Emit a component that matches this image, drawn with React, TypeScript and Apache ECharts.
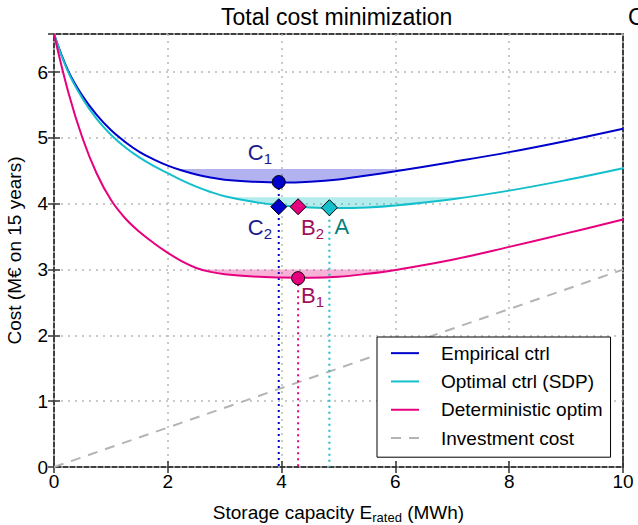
import React, { useEffect, useRef } from "react";
import * as echarts from "echarts";

// ---------- data ----------
const xs = [0, 0.25, 0.5, 0.75, 1, 1.25, 1.5, 1.75, 2, 2.25, 2.5, 2.75, 3, 3.5, 4, 4.5, 5, 5.5, 6, 7, 8, 9, 10];
const empirical = [6.58, 6.02, 5.64, 5.35, 5.12, 4.94, 4.79, 4.675, 4.58, 4.505, 4.445, 4.4, 4.365, 4.335, 4.322, 4.335, 4.37, 4.43, 4.495, 4.635, 4.785, 4.955, 5.14];
const optimal = [6.58, 6.0, 5.6, 5.29, 5.05, 4.86, 4.705, 4.575, 4.465, 4.355, 4.26, 4.18, 4.115, 4.03, 3.975, 3.945, 3.935, 3.945, 3.975, 4.07, 4.2, 4.36, 4.54];
const deterministic = [6.58, 5.7, 5.0, 4.46, 4.06, 3.78, 3.575, 3.405, 3.255, 3.125, 3.025, 2.965, 2.93, 2.895, 2.88, 2.875, 2.89, 2.935, 2.995, 3.15, 3.345, 3.55, 3.76];
const investmentX = [0, 10];
const investmentY = [0, 3.0];

// shaded near-optimal bands: level and x range where the curve lies below it
const bandLevels = [4.53, 4.1, 3.0];
const bandRanges = [[2.17, 6.25], [3.09, 7.25], [2.6, 6.03]];

// optimum points
const pointNames = ["C1", "C2", "B2", "A", "B1"];
const pointX = [3.95, 3.95, 4.29, 4.84, 4.29];
const pointY = [4.33, 3.955, 3.955, 3.94, 2.87];

const seriesNames = ["Empirical ctrl", "Optimal ctrl (SDP)", "Deterministic optim", "Investment cost"];
const xTicks = [0, 2, 4, 6, 8, 10];
const yTicks = [0, 1, 2, 3, 4, 5, 6];

// ---------- styles ----------
const FONT = "'Liberation Sans', Arial, Helvetica, sans-serif";
const BLUE = "#0000cc";
const CYAN = "#14bfcc";
const PINK = "#e6007e";
const BAND_COLORS = ["rgba(0,0,204,0.3)", "rgba(0,191,191,0.3)", "rgba(230,0,126,0.3)"];
const LABEL_BLUE = "#1a1a8c";
const LABEL_PINK = "#a0105c";
const LABEL_TEAL = "#008080";

const pointStyle = [
  { symbol: "circle", size: 13, color: BLUE, label: LABEL_BLUE, offset: [-31, -44] },
  { symbol: "diamond", size: 16, color: BLUE, label: LABEL_BLUE, offset: [-31, 6.4] },
  { symbol: "diamond", size: 16, color: PINK, label: LABEL_PINK, offset: [3, 6.4] },
  { symbol: "diamond", size: 16, color: CYAN, label: LABEL_TEAL, offset: [5, 5] },
  { symbol: "circle", size: 13, color: PINK, label: LABEL_PINK, offset: [3, 3] },
];
// which points get a dotted drop line to the x axis
const dropFrom = [0, 3, 4];

const SMOOTH = 0.4;

export default function App() {
  const ref = useRef<HTMLDivElement>(null);

  useEffect(() => {
    document.body.style.margin = "0";
    if (!ref.current) return;
    const chart = echarts.init(ref.current, undefined, { renderer: "svg" });

    const curves = [empirical, optimal, deterministic];
    const colors = [BLUE, CYAN, PINK];

    const curveSeries = curves.map((c, i) => ({
      name: seriesNames[i],
      type: "line",
      data: xs.map((x, j) => [x, c[j]]),
      symbol: "none",
      smooth: SMOOTH,
      color: colors[i],
      lineStyle: { color: colors[i], width: 2 },
      z: 3,
    }));

    const bandSeries = curves.map((c, i) => {
      const [a, b] = bandRanges[i];
      const pts: number[][] = [[a, bandLevels[i]]];
      xs.forEach((x, j) => {
        if (x > a && x < b) pts.push([x, c[j]]);
      });
      pts.push([b, bandLevels[i]]);
      return {
        name: "band" + i,
        type: "line",
        data: pts,
        symbol: "none",
        smooth: SMOOTH,
        lineStyle: { width: 0, opacity: 0 },
        areaStyle: { color: BAND_COLORS[i], opacity: 1, origin: bandLevels[i] },
        silent: true,
        z: 1,
      };
    });

    const dropSeries = dropFrom.map((k) => ({
      name: "drop" + k,
      type: "line",
      data: [
        [pointX[k], pointY[k]],
        [pointX[k], 0],
      ],
      symbol: "none",
      lineStyle: { color: pointStyle[k].color, width: 2, type: [2, 4] },
      silent: true,
      z: 2,
    }));

    const scatter = {
      name: "points",
      type: "scatter",
      z: 5,
      data: pointNames.map((n, i) => ({
        value: [pointX[i], pointY[i]],
        symbol: pointStyle[i].symbol,
        symbolSize: pointStyle[i].size,
        itemStyle: { color: pointStyle[i].color, borderColor: "#000", borderWidth: 1, opacity: 1 },
        label: {
          show: true,
          position: "inside",
          align: "left",
          verticalAlign: "top",
          offset: pointStyle[i].offset,
          formatter: "{m|" + n.charAt(0) + "}{s|" + n.slice(1) + "}",
          rich: {
            m: { fontSize: 22, lineHeight: 28, color: pointStyle[i].label, fontFamily: FONT },
            s: { fontSize: 15, lineHeight: 12, verticalAlign: "bottom", color: pointStyle[i].label, fontFamily: FONT },
          },
        },
      })),
    };

    const tickStyle = { show: true, inside: true, length: 6, lineStyle: { color: "#333", width: 1.5 } };

    const option = {
      animation: false,
      textStyle: { fontFamily: FONT },
      title: {
        text: "Total cost minimization",
        left: 221,
        top: 3,
        padding: 0,
        textStyle: { fontSize: 23, fontWeight: "normal", color: "#000", lineHeight: 28, fontFamily: FONT },
      },
      graphic: [
        {
          type: "text",
          left: 628,
          top: 3,
          style: { text: "C", fontSize: 23, fill: "#000", font: "23px " + FONT, lineHeight: 28 },
        },
      ],
      legend: {
        data: seriesNames,
        orient: "vertical",
        left: 377,
        top: 337,
        itemWidth: 28,
        itemHeight: 14,
        itemGap: 0,
        padding: [2, 8, 5, 13],
        backgroundColor: "#fff",
        borderColor: "#000",
        borderWidth: 1,
        borderRadius: 0,
        itemStyle: { opacity: 0, borderWidth: 0 },
        textStyle: { fontSize: 19, color: "#000", lineHeight: 28.3, padding: [0, 0, 0, 17], fontFamily: FONT },
      },
      grid: {
        left: 54,
        right: 15,
        top: 34,
        bottom: 58,
        show: true,
        borderColor: "#000",
        borderWidth: 1.5,
        backgroundColor: "transparent",
        containLabel: false,
        outerBoundsMode: "none",
      },
      xAxis: [
        {
          type: "value",
          min: xTicks[0],
          max: xTicks[xTicks.length - 1],
          interval: 2,
          axisLine: { show: false },
          axisTick: tickStyle,
          axisLabel: { margin: 5, fontSize: 19, color: "#000", fontFamily: FONT },
          splitLine: { show: true, lineStyle: { color: "#b8b8b8", width: 1.5, type: [2, 5] } },
          name: "{n|Storage capacity E}{s|rated}{n| (MWh)}",
          nameLocation: "middle",
          nameGap: 33,
          nameTextStyle: {
            rich: {
              n: { fontSize: 19, lineHeight: 24, color: "#000", fontFamily: FONT },
              s: { fontSize: 13, lineHeight: 10, verticalAlign: "bottom", color: "#000", fontFamily: FONT },
            },
          },
        },
        {
          type: "value",
          position: "top",
          min: xTicks[0],
          max: xTicks[xTicks.length - 1],
          interval: 2,
          axisLine: { show: false },
          axisTick: tickStyle,
          axisLabel: { show: false },
          splitLine: { show: false },
        },
      ],
      yAxis: [
        {
          type: "value",
          min: yTicks[0],
          max: 6.58,
          interval: 1,
          axisLine: { show: false },
          axisTick: tickStyle,
          axisLabel: {
            margin: 6,
            fontSize: 19,
            color: "#000",
            fontFamily: FONT,
            showMaxLabel: false,
          },
          splitLine: { show: true, lineStyle: { color: "#b8b8b8", width: 1.5, type: [2, 5] } },
          name: "Cost (M€ on 15 years)",
          nameLocation: "middle",
          nameGap: 26,
          nameTextStyle: { fontSize: 19, lineHeight: 24, color: "#000", fontFamily: FONT },
        },
        {
          type: "value",
          position: "right",
          min: yTicks[0],
          max: 6.58,
          interval: 1,
          axisLine: { show: false },
          axisTick: tickStyle,
          axisLabel: { show: false },
          splitLine: { show: false },
        },
      ],
      series: [
        ...bandSeries,
        ...curveSeries,
        {
          name: seriesNames[3],
          type: "line",
          data: investmentX.map((x, j) => [x, investmentY[j]]),
          symbol: "none",
          color: "#b4b4b4",
          lineStyle: { color: "#b4b4b4", width: 2, type: [10, 8] },
          z: 2,
        },
        ...dropSeries,
        scatter,
      ],
    };

    chart.setOption(option as any);
    return () => chart.dispose();
  }, []);

  return <div ref={ref} style={{ width: 638, height: 525 }} />;
}
